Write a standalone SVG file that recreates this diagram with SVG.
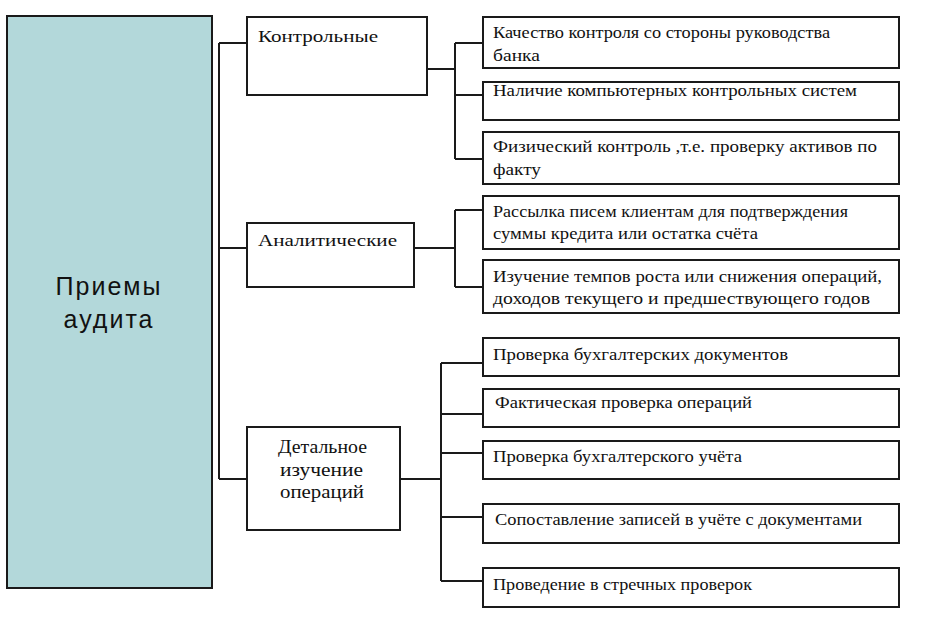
<svg xmlns="http://www.w3.org/2000/svg" width="928" height="630" viewBox="0 0 928 630">
<style>
.box{fill:#fff;stroke:#1a1a1a;stroke-width:2}
.main{fill:#b3d8da;stroke:#1a1a1a;stroke-width:2}
.t{font-family:"Liberation Serif","Times New Roman",serif;font-size:16px;fill:#111}
.d{font-family:"Liberation Serif","Times New Roman",serif;font-size:18px;fill:#111}
.h{font-family:"Liberation Sans",Arial,sans-serif;font-size:25px;fill:#111;letter-spacing:2px;text-anchor:middle}
.c{fill:none;stroke:#1a1a1a;stroke-width:2}
</style>
<rect width="928" height="630" fill="#fff"/>
<g id="connectors">
<path class="c" d="M219 43V479M219 43H247M219 248H247M219 479H247"/>
<path class="c" d="M427 69H455M455 43V159M455 43H483M455 95H483M455 159H483"/>
<path class="c" d="M414 248H455M455 210V287M455 210H483M455 287H483"/>
<path class="c" d="M400 479H441M441 363V581M441 363H483M441 414H483M441 453H483M441 517H483M441 581H483"/>
</g>
<g id="root">
<rect class="main" x="7" y="16" width="205" height="572"/>
<text class="h" x="109" y="295">Приемы</text>
<text class="h" x="109" y="328">аудита</text>
</g>
<g id="kontrol">
<rect class="box" x="247" y="17" width="180" height="78"/>
<text class="t" x="258" y="42" textLength="120" lengthAdjust="spacingAndGlyphs">Контрольные</text>
</g>
<g id="analit">
<rect class="box" x="247" y="223" width="167" height="64"/>
<text class="t" x="258" y="246" textLength="139" lengthAdjust="spacingAndGlyphs">Аналитические</text>
</g>
<g id="detal">
<rect class="box" x="247" y="427" width="153" height="103"/>
<text class="d" x="278" y="453" textLength="89" lengthAdjust="spacingAndGlyphs">Детальное</text>
<text class="d" x="280" y="476" textLength="83" lengthAdjust="spacingAndGlyphs">изучение</text>
<text class="d" x="280" y="498" textLength="84" lengthAdjust="spacingAndGlyphs">операций</text>
</g>
<g id="n1">
<rect class="box" x="483" y="17" width="416" height="51"/>
<text class="t" x="493" y="38" textLength="337" lengthAdjust="spacingAndGlyphs">Качество контроля со стороны руководства</text>
<text class="t" x="493" y="61" textLength="47" lengthAdjust="spacingAndGlyphs">банка</text>
</g>
<g id="n2">
<rect class="box" x="483" y="82" width="416" height="38"/>
<text class="t" x="493" y="96" textLength="364" lengthAdjust="spacingAndGlyphs">Наличие компьютерных контрольных систем</text>
</g>
<g id="n3">
<rect class="box" x="483" y="132" width="416" height="52"/>
<text class="t" x="493" y="152" textLength="384" lengthAdjust="spacingAndGlyphs">Физический контроль ,т.е. проверку активов по</text>
<text class="t" x="493" y="175" textLength="48" lengthAdjust="spacingAndGlyphs">факту</text>
</g>
<g id="n4">
<rect class="box" x="483" y="196" width="416" height="53"/>
<text class="t" x="493" y="217" textLength="355" lengthAdjust="spacingAndGlyphs">Рассылка писем клиентам для подтверждения</text>
<text class="t" x="493" y="239" textLength="265" lengthAdjust="spacingAndGlyphs">суммы кредита или остатка счёта</text>
</g>
<g id="n5">
<rect class="box" x="483" y="260" width="416" height="53"/>
<text class="t" x="493" y="282" textLength="389" lengthAdjust="spacingAndGlyphs">Изучение темпов роста или снижения операций,</text>
<text class="t" x="493" y="304" textLength="377" lengthAdjust="spacingAndGlyphs">доходов текущего и предшествующего годов</text>
</g>
<g id="n6">
<rect class="box" x="483" y="338" width="416" height="38"/>
<text class="t" x="493" y="360" textLength="295" lengthAdjust="spacingAndGlyphs">Проверка  бухгалтерских документов</text>
</g>
<g id="n7">
<rect class="box" x="483" y="389" width="416" height="38"/>
<text class="t" x="495" y="408" textLength="257" lengthAdjust="spacingAndGlyphs">Фактическая проверка операций</text>
</g>
<g id="n8">
<rect class="box" x="483" y="441" width="416" height="38"/>
<text class="t" x="493" y="462" textLength="249" lengthAdjust="spacingAndGlyphs">Проверка бухгалтерского учёта</text>
</g>
<g id="n9">
<rect class="box" x="483" y="504" width="416" height="39"/>
<text class="t" x="495" y="525" textLength="367" lengthAdjust="spacingAndGlyphs">Сопоставление записей в учёте с документами</text>
</g>
<g id="n10">
<rect class="box" x="483" y="568" width="416" height="39"/>
<text class="t" x="493" y="590" textLength="259" lengthAdjust="spacingAndGlyphs">Проведение в стречных проверок</text>
</g>
</svg>
